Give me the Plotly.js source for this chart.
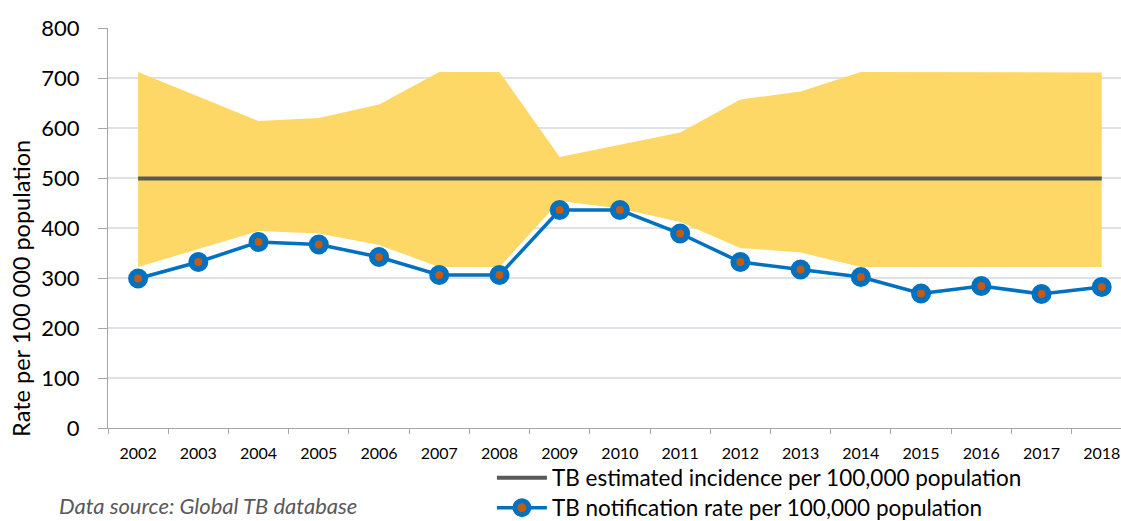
<!DOCTYPE html>
<html>
<head>
<meta charset="utf-8">
<script src="https://cdn.plot.ly/plotly-3.0.1.min.js"></script>
<style>
  html, body { margin: 0; padding: 0; background: #fff; }
  #chart { width: 1121px; height: 521px; }
</style>
</head>
<body>
<div id="chart"></div>
<script>
// chart data
const years = ["2002", "2003", "2004", "2005", "2006", "2007", "2008", "2009",
  "2010", "2011", "2012", "2013", "2014", "2015", "2016", "2017", "2018"];
const incidence = [499, 499, 499, 499, 499, 499, 499, 499, 499, 499, 499, 499, 499, 499, 499, 499, 499];
const incidenceLow = [322, 358, 394, 389, 366, 322, 322, 454, 439, 412, 360, 351, 322, 322, 322, 322, 322];
const incidenceHigh = [712, 663, 614, 620, 647, 712, 712, 542, 567, 591, 657, 673, 712, 712, 712, 712, 711];
const notification = [299, 332, 372, 367, 342, 306, 306, 436, 436, 389, 332, 317, 302, 269, 284, 268, 282];

const fontFamily = "Lato, 'Noto Sans', sans-serif";

const lowTrace = {
  x: years,
  y: incidenceLow,
  type: "scatter",
  mode: "lines",
  line: { width: 0, color: "rgba(0,0,0,0)" },
  showlegend: false,
  hoverinfo: "skip",
};

const highTrace = {
  x: years,
  y: incidenceHigh,
  type: "scatter",
  mode: "lines",
  fill: "tonexty",
  fillcolor: "#FDD866",
  line: { width: 0, color: "rgba(0,0,0,0)" },
  showlegend: false,
  hoverinfo: "skip",
};

const incidenceTrace = {
  x: years,
  y: incidence,
  type: "scatter",
  mode: "lines",
  name: "TB estimated incidence per 100,000 population",
  legend: "legend",
  line: { color: "#595959", width: 4 },
};

const notificationTrace = {
  x: years,
  y: notification,
  type: "scatter",
  mode: "lines+markers",
  name: "TB notification rate per 100,000 population",
  legend: "legend2",
  line: { color: "#0070C0", width: 3.5 },
  marker: {
    size: 14,
    color: "#C55A11",
    line: { color: "#0070C0", width: 6 },
  },
};

// one legend per row so the two rows sit where the reference has them
const legendBase = {
  x: 0.379,
  xanchor: "left",
  yanchor: "middle",
  font: { size: 22.5, color: "#000000" },
  itemwidth: 50,
  bgcolor: "rgba(0,0,0,0)",
};

const layout = {
  width: 1121,
  height: 521,
  margin: { l: 108, r: 0, t: 28, b: 93, autoexpand: false },
  paper_bgcolor: "#ffffff",
  plot_bgcolor: "#ffffff",
  font: { family: fontFamily, color: "#000000" },
  showlegend: true,
  legend: Object.assign({}, legendBase, { y: -0.125 }),
  legend2: Object.assign({}, legendBase, { y: -0.2 }),
  xaxis: {
    type: "category",
    range: [-0.5, 16.32],
    automargin: false,
    showgrid: false,
    showline: true,
    linecolor: "#A6A6A6",
    linewidth: 1,
    ticks: "outside",
    tickson: "boundaries",
    ticklen: 5,
    tickcolor: "#A6A6A6",
    ticklabelstandoff: 11,
    tickfont: { size: 16, color: "#000000" },
    zeroline: false,
  },
  yaxis: {
    range: [0, 800],
    dtick: 100,
    automargin: false,
    showgrid: true,
    gridcolor: "#DEE1E6",
    gridwidth: 1.5,
    showline: true,
    linecolor: "#A6A6A6",
    linewidth: 1,
    ticks: "outside",
    ticklen: 9,
    tickcolor: "#A6A6A6",
    ticklabelstandoff: 14,
    tickfont: { size: 22, color: "#000000" },
    zeroline: false,
  },
  annotations: [
    {
      text: "Rate per 100 000 population",
      xref: "paper",
      yref: "paper",
      x: -0.086,
      y: 0.35,
      xanchor: "center",
      yanchor: "middle",
      textangle: -90,
      showarrow: false,
      font: { size: 23.5, color: "#000000" },
    },
    {
      text: "<i>Data source: Global TB database</i>",
      xref: "paper",
      yref: "paper",
      x: -0.049,
      y: -0.231,
      xanchor: "left",
      yanchor: "bottom",
      borderpad: 0,
      showarrow: false,
      font: { size: 22, color: "#595959" },
    },
  ],
};

Plotly.newPlot("chart", [lowTrace, highTrace, incidenceTrace, notificationTrace], layout, {
  displayModeBar: false,
  staticPlot: true,
});
</script>
</body>
</html>
